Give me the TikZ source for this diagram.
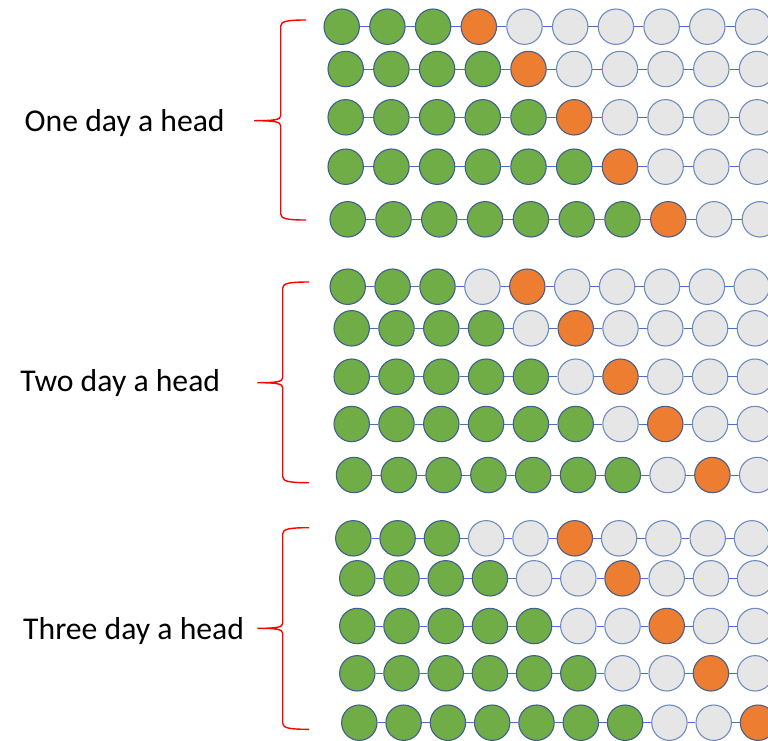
\documentclass[tikz,border=0pt]{standalone}
\usepackage{fontspec}
\setmainfont{Carlito}
\definecolor{cg}{HTML}{70AD47}
\definecolor{cgd}{HTML}{3F5F8C}
\definecolor{co}{HTML}{ED7D31}
\definecolor{cod}{HTML}{4A5F86}
\definecolor{cw}{HTML}{E7E6E6}
\definecolor{cwd}{HTML}{6F8CBE}
\definecolor{linkc}{HTML}{4472C4}
\definecolor{bracec}{HTML}{FF0000}
\tikzset{
  bead/.style={circle, minimum size=35.4pt, inner sep=0pt, line width=1.1pt},
  linkline/.style={draw=linkc, line width=0.9pt},
  bracel/.style={draw=bracec, line width=1.4pt},
  lbl/.style={font=\fontsize{31.7}{37}\selectfont, inner sep=0pt, text=black}
}
\newcommand\beadrow[5]{%
  \foreach \c [count=\i] in {#5} {\node[bead, fill=\c, draw=\c d] (#1-\i) at ({#3+(\i-1)*#4},#2) {};}
  \foreach \i [evaluate=\i as \j using int(\i+1)] in {1,...,9} {\draw[linkline] (#1-\i) -- (#1-\j);}
}
\newcommand\redbrace[6]{% x vertical, arm x, tip x, top y, tip y, bottom y
  \draw[bracel] (#2,#4) .. controls ({#1+8},#4) and (#1,{#4+1}) .. (#1,{#4+6}) -- (#1,{#5-5})
    .. controls (#1,{#5-1}) and ({#1-6},#5) .. (#3,#5)
    .. controls ({#1-6},#5) and (#1,{#5+1}) .. (#1,{#5+5}) -- (#1,{#6-6})
    .. controls (#1,{#6-1}) and ({#1+8},#6) .. (#2,#6);
}
\begin{document}
\begin{tikzpicture}[x=1pt,y=-1pt]
\useasboundingbox (0,0) rectangle (768,740);
% section 1
\beadrow{a1}{26.7}{341.7}{45.7}{cg,cg,cg,co,cw,cw,cw,cw,cw,cw}
\beadrow{a2}{69}{345.7}{45.7}{cg,cg,cg,cg,co,cw,cw,cw,cw,cw}
\beadrow{a3}{117.3}{345.7}{45.7}{cg,cg,cg,cg,cg,co,cw,cw,cw,cw}
\beadrow{a4}{166.7}{345.7}{45.7}{cg,cg,cg,cg,cg,cg,co,cw,cw,cw}
\beadrow{a5}{219.3}{347.7}{45.8}{cg,cg,cg,cg,cg,cg,cg,co,cw,cw}
% section 2
\beadrow{b1}{286.7}{347.7}{44.9}{cg,cg,cg,cw,co,cw,cw,cw,cw,cw}
\beadrow{b2}{328.3}{351.7}{44.8}{cg,cg,cg,cg,cw,co,cw,cw,cw,cw}
\beadrow{b3}{376.7}{351.7}{44.8}{cg,cg,cg,cg,cg,cw,co,cw,cw,cw}
\beadrow{b4}{424}{351.7}{44.8}{cg,cg,cg,cg,cg,cg,cw,co,cw,cw}
\beadrow{b5}{475}{354}{44.8}{cg,cg,cg,cg,cg,cg,cg,cw,co,cw}
% section 3
\beadrow{c1}{538.3}{353.3}{44.3}{cg,cg,cg,cw,cw,co,cw,cw,cw,cw}
\beadrow{c2}{578.3}{357.3}{44.2}{cg,cg,cg,cg,cw,cw,co,cw,cw,cw}
\beadrow{c3}{626}{357.3}{44.2}{cg,cg,cg,cg,cg,cw,cw,co,cw,cw}
\beadrow{c4}{673.3}{357.3}{44.2}{cg,cg,cg,cg,cg,cg,cw,cw,co,cw}
\beadrow{c5}{722.7}{359.3}{44.3}{cg,cg,cg,cg,cg,cg,cg,cw,cw,co}
% braces
\redbrace{280.7}{306}{254}{20}{120.7}{220}
\redbrace{282.7}{309}{257.3}{282}{382.7}{482.7}
\redbrace{282.7}{309}{257.3}{527.7}{628.3}{729.3}
% labels
\node[lbl, anchor=base west] (l1) at (24.5,131) {One day a head};
\node[lbl, anchor=base west] (l2) at (20.2,391) {Two day a head};
\node[lbl, anchor=base west] (l3) at (23,639) {Three day a head};
\end{tikzpicture}
\end{document}
